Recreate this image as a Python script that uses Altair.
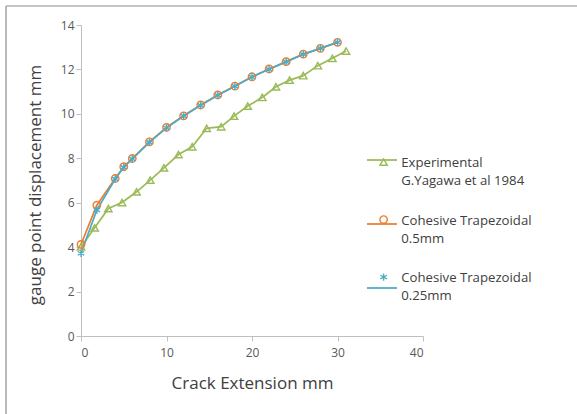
import altair as alt
import pandas as pd

# ---- data ----
exp_x = [0, 1.6, 3.2, 4.8, 6.5, 8.1, 9.7, 11.4, 13.0, 14.7, 16.4, 17.9, 19.5, 21.2, 22.8, 24.4, 26.0, 27.7, 29.4, 31.0]
exp_y = [4.01, 4.87, 5.74, 6.01, 6.49, 7.02, 7.57, 8.17, 8.52, 9.35, 9.42, 9.90, 10.35, 10.74, 11.22, 11.52, 11.72, 12.17, 12.50, 12.83]

coh_x = [0, 1.85, 4, 5, 6, 8, 10, 12, 14, 16, 18, 20, 22, 24, 26, 28, 30]
coh05_y = [4.12, 5.89, 7.09, 7.62, 7.99, 8.74, 9.39, 9.91, 10.40, 10.85, 11.25, 11.67, 12.02, 12.35, 12.69, 12.95, 13.22]
coh025_y = [3.72, 5.67, 7.07, 7.60, 7.97, 8.72, 9.37, 9.90, 10.39, 10.84, 11.24, 11.66, 12.01, 12.34, 12.68, 12.95, 13.22]

series_names = ["Experimental|G.Yagawa et al 1984",
                "Cohesive Trapezoidal|0.5mm",
                "Cohesive Trapezoidal|0.25mm"]
series_colors = ["#9BBB59", "#ED7D31", "#4BACC6"]
asterisk = "M0,-1L0,1M-0.87,-0.5L0.87,0.5M-0.87,0.5L0.87,-0.5"
series_shapes = ["triangle-up", "circle", asterisk]

x_ticks = [0, 10, 20, 30, 40]
y_ticks = [0, 2, 4, 6, 8, 10, 12, 14]

rows = []
for xv, yv in zip(exp_x, exp_y):
    rows.append({"series": series_names[0], "x": xv, "y": yv})
for xv, yv in zip(coh_x, coh05_y):
    rows.append({"series": series_names[1], "x": xv, "y": yv})
for xv, yv in zip(coh_x, coh025_y):
    rows.append({"series": series_names[2], "x": xv, "y": yv})
df = pd.DataFrame(rows)
# separate key for the line layer so that its (line-sample) legend stays separate
df["line_series"] = df["series"] + " "
line_names = [n + " " for n in series_names]

FONT = "Open Sans"
W, H = 342, 311
PAD_L, PAD_T = 81, 25
LABEL_DY = 5

xenc = alt.X("x:Q", scale=alt.Scale(domain=[0, 40], nice=False),
             axis=alt.Axis(values=x_ticks, title="Crack Extension mm",
                           labelPadding=6 - LABEL_DY,
                           titleY=47, titleBaseline="middle"))
yenc = alt.Y("y:Q", scale=alt.Scale(domain=[0, 14], nice=False),
             axis=alt.Axis(values=y_ticks, title="gauge point displacement mm",
                           labelOffset=-LABEL_DY,
                           titleX=-46, titleY=H / 2 + 4, titleAngle=-90,
                           titleBaseline="middle", titleAnchor="middle"))

label_expr = "split(datum.label, '|')"
common_legend = dict(orient="none", title=None, labelExpr=label_expr,
                     labelFont=FONT, labelFontSize=13.2, labelColor="#404040",
                     labelBaseline="alphabetic", padding=0,
                     labelLimit=300)

base = alt.Chart(df)

lines = base.mark_line(strokeWidth=1.75).encode(
    x=xenc, y=yenc,
    stroke=alt.Stroke("line_series:N",
                      scale=alt.Scale(domain=line_names, range=series_colors),
                      legend=alt.Legend(symbolType="stroke", symbolSize=900,
                                        symbolStrokeWidth=1.75,
                                        legendX=285, legendY=119,
                                        rowPadding=22,
                                        labelOpacity=0,
                                        **common_legend)),
    detail="line_series:N",
)

points = base.mark_point(filled=False, size=55, strokeWidth=1.4, opacity=1).encode(
    x=xenc, y=yenc,
    color=alt.Color("series:N",
                    scale=alt.Scale(domain=series_names, range=series_colors),
                    legend=alt.Legend(symbolSize=55, symbolStrokeWidth=1.4,
                                      symbolFillColor="white",
                                      legendX=296, legendY=130.5,
                                      rowPadding=25.5, labelOffset=11,
                                      **common_legend)),
    shape=alt.Shape("series:N",
                    scale=alt.Scale(domain=series_names, range=series_shapes),
                    legend=alt.Legend(symbolSize=55, symbolStrokeWidth=1.4,
                                      symbolFillColor="white",
                                      legendX=296, legendY=130.5,
                                      rowPadding=25.5, labelOffset=11,
                                      **common_legend)),
)

border_data = alt.Data(values=[{"k": 1}])
left_border = alt.Chart(border_data).mark_rule(color="#8c8c8c", strokeWidth=1.2).encode(
    x=alt.value(6 - PAD_L), y=alt.value(6 - PAD_T), y2=alt.value(414 - PAD_T + 5))
top_border = alt.Chart(border_data).mark_rule(color="#8c8c8c", strokeWidth=1.2).encode(
    x=alt.value(6 - PAD_L), x2=alt.value(577 - PAD_L + 5), y=alt.value(6 - PAD_T))

chart = alt.layer(left_border, top_border, lines, points).properties(
    width=W, height=H,
    autosize=alt.AutoSizeParams(type="none"),
    padding={"left": PAD_L, "top": PAD_T, "right": 577 - PAD_L - W, "bottom": 414 - PAD_T - H},
    background="white",
).configure(
    style={"guide-label": {"lineHeight": 18, "dy": LABEL_DY}},
).configure_view(stroke=None).configure_axis(
    grid=False,
    labelFont=FONT, labelFontSize=12, labelColor="#595959",
    domainColor="#bfbfbf", tickColor="#bfbfbf", tickSize=5,
    titleFont=FONT, titleFontSize=17, titleFontWeight="normal", titleColor="#404040",
)

chart.save("out.html", embed_options={"renderer": "svg", "actions": False})
